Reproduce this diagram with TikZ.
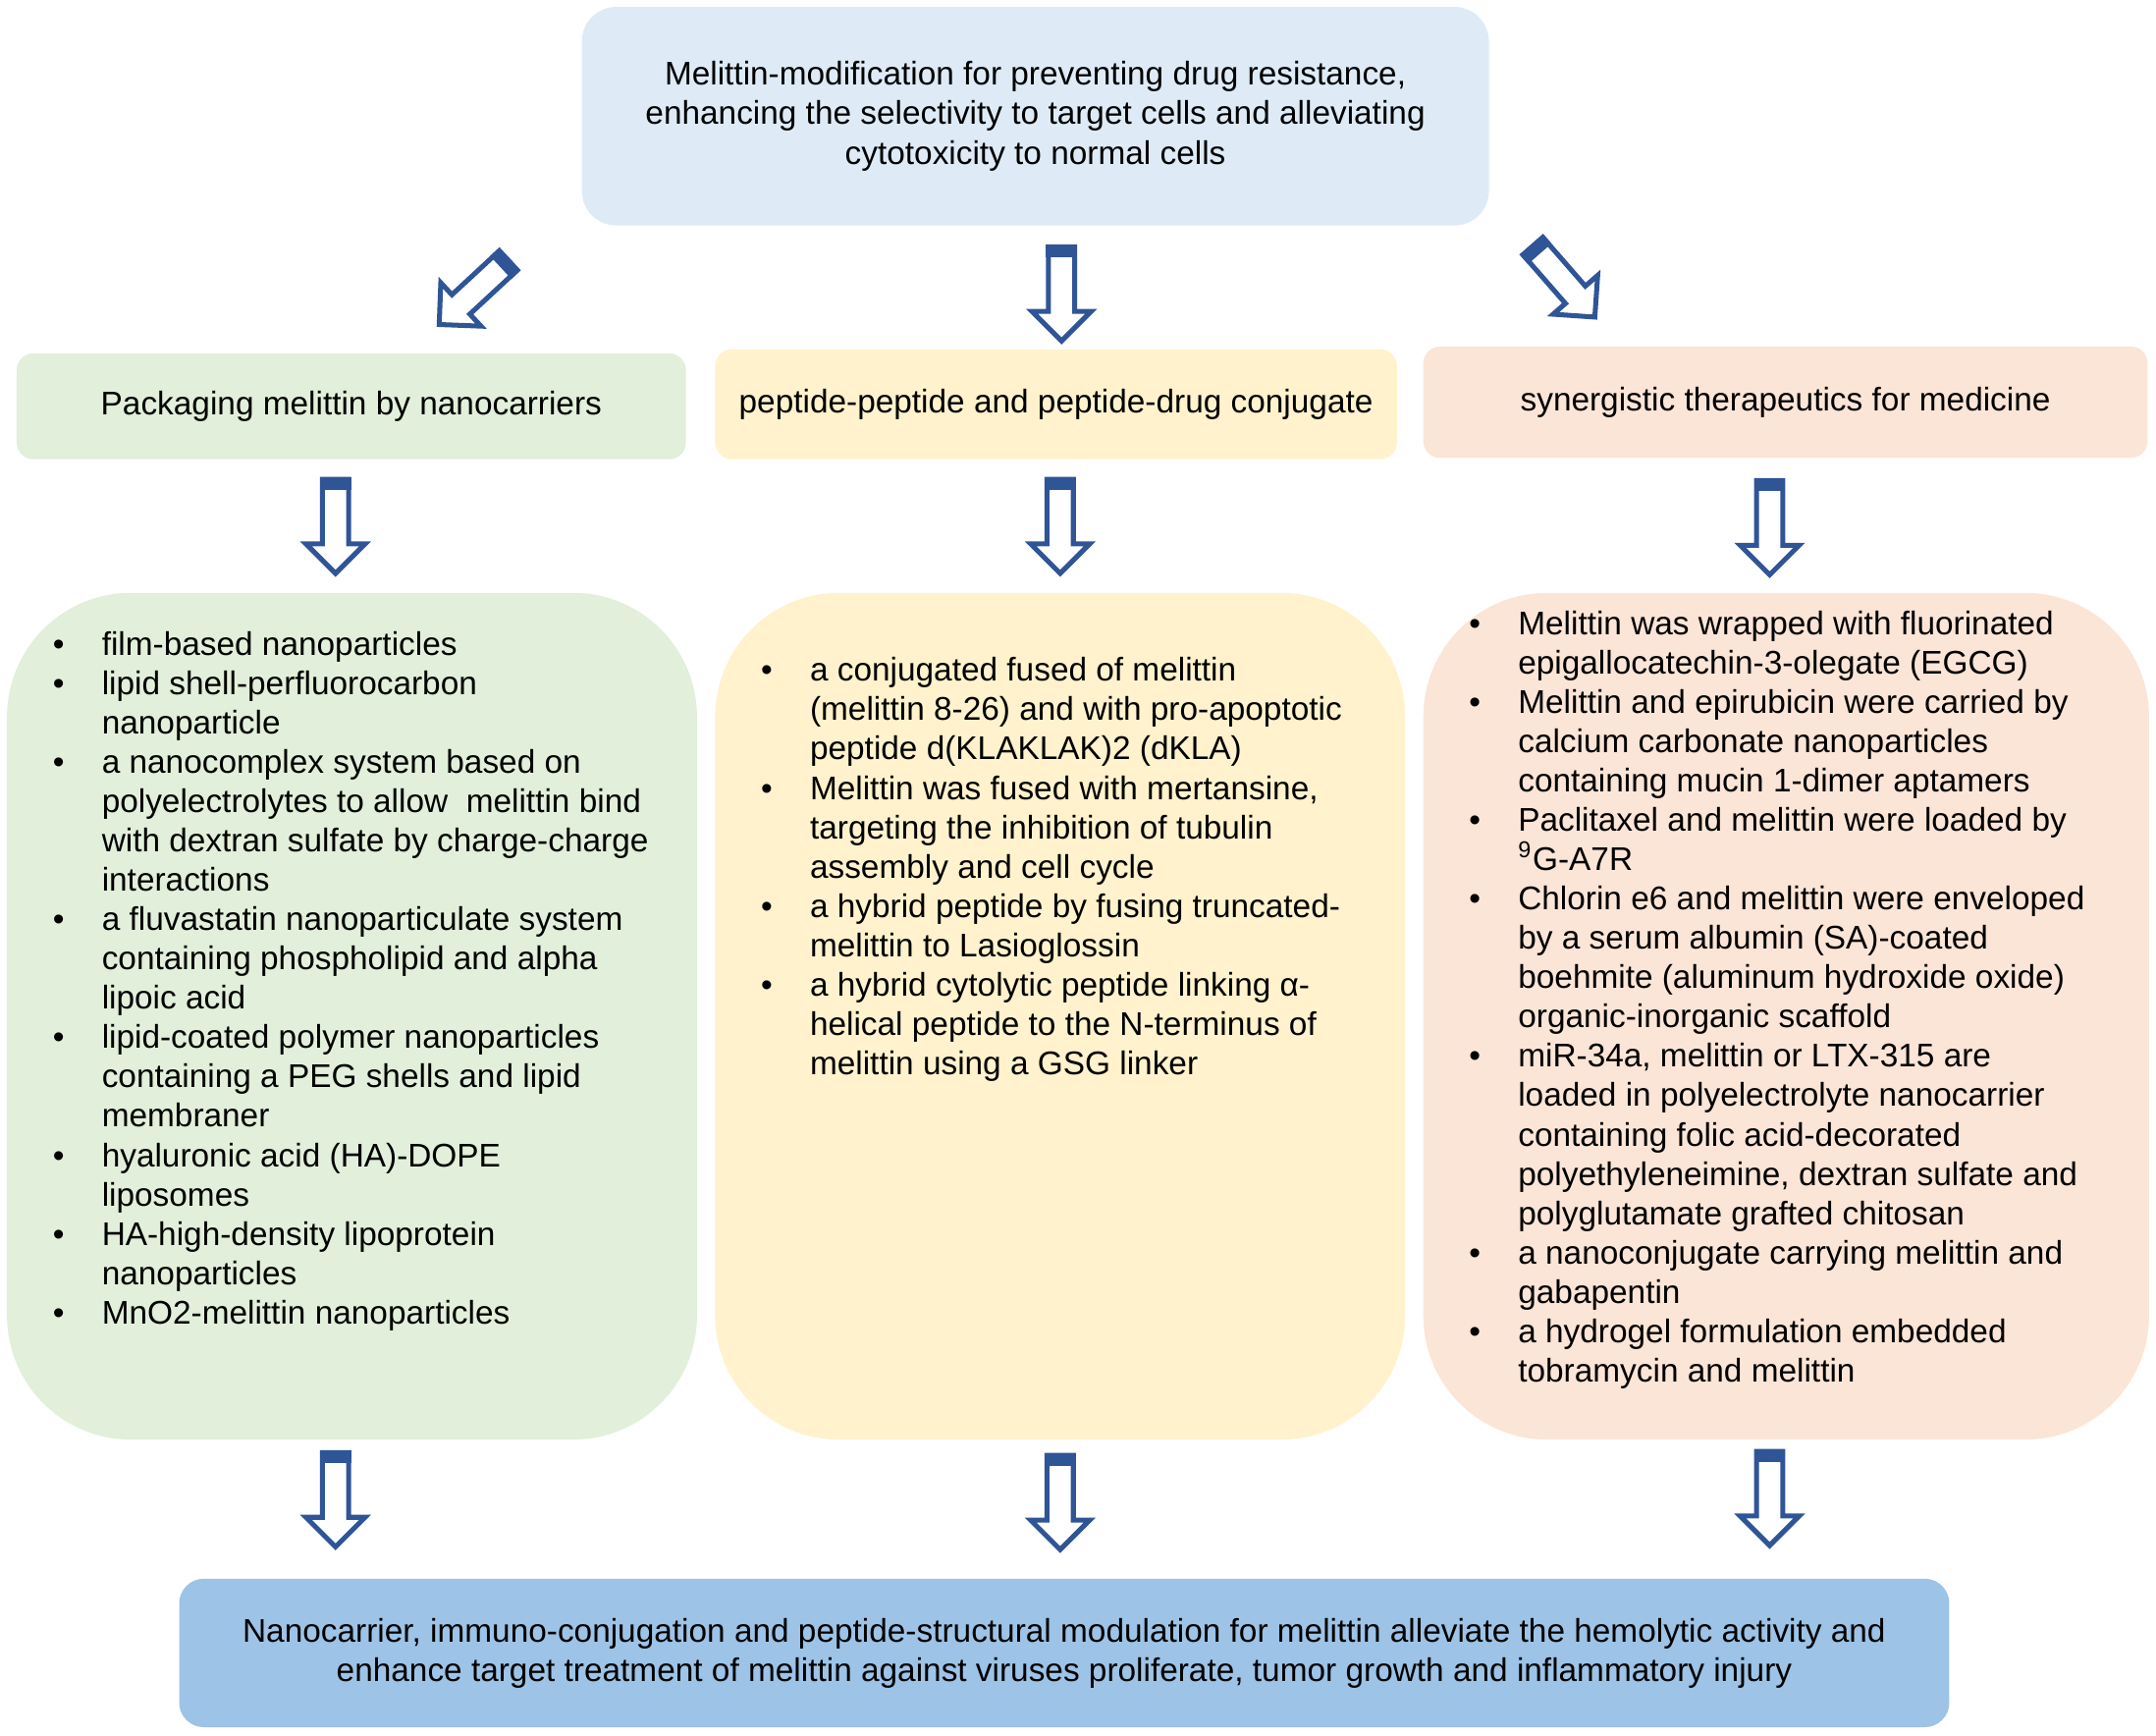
\documentclass[tikz,border=0pt]{standalone}
\usepackage{fontspec}
\setmainfont{Liberation Sans}
\usepackage{tikz}
\usetikzlibrary{positioning, calc}
\definecolor{topblue}{RGB}{222, 235, 247}
\definecolor{nanogreen}{RGB}{226, 239, 218}
\definecolor{conjyellow}{RGB}{255, 242, 204}
\definecolor{synorange}{RGB}{251, 229, 214}
\definecolor{goalblue}{RGB}{157, 195, 230}
\definecolor{arrowblue}{RGB}{47, 85, 151}

\newcommand{\bitem}{\makebox[0.5cm][l]{\textbullet}}
\newcommand{\bcont}{\hspace*{0.5cm}}
\setlength{\lineskiplimit}{-100pt}

\begin{document}
\begin{tikzpicture}[
    x=0.014cm, y=-0.014cm,
    every node/.style={font=\fontsize{9.5}{11.4}\selectfont},
    box/.style={rounded corners=0.17cm, align=center, inner sep=0pt},
    listbox/.style={rounded corners=1.26cm, inner sep=0pt,
                    minimum height=8.624cm},
    listtext/.style={align=left, inner sep=0pt, anchor=north west},
    blockarrow/.pic={
      \draw[arrowblue, line width=1.43pt, fill=white, line join=miter]
        (0,-9.6) -- (47,-9.6) -- (47,-21.5) -- (68.5,0) -- (47,21.5)
        -- (47,9.6) -- (0,9.6) -- cycle;
      \fill[arrowblue] (-1.8,-11.4) rectangle (7.5,11.4);
    },
  ]
  \useasboundingbox (0,0) rectangle (1568,1262);

  % aim
  \node[box, fill=topblue, rounded corners=0.35cm,
        minimum width=9.24cm, minimum height=2.226cm] (top) at (753,84.5)
    {Melittin-modification for preventing drug resistance,\\
     enhancing the selectivity to target cells and alleviating\\
     cytotoxicity to normal cells};

  % three strategies
  \node[box, fill=nanogreen, minimum width=6.818cm, minimum height=1.078cm]
    (pack) at (255.5,295.5) {Packaging melittin by nanocarriers};
  \node[box, fill=conjyellow, minimum width=6.944cm, minimum height=1.12cm]
    (conj) at (768,294) {peptide-peptide and peptide-drug conjugate};
  \node[box, fill=synorange, minimum width=7.378cm, minimum height=1.134cm]
    (syn) at (1298.5,292.5) {synergistic therapeutics for medicine};

  % examples
  \node[listbox, fill=nanogreen, minimum width=7.028cm] (packlist) at (256,739) {};
  \node[listbox, fill=conjyellow, minimum width=7.028cm] (conjlist) at (771,739) {};
  \node[listbox, fill=synorange, minimum width=7.392cm] (synlist) at (1299,739) {};

  \node[listtext, below right=0.30cm and 0.466cm of packlist.north west] (packtext)
    {\rule{0pt}{9.5pt}\bitem film-based nanoparticles\\
     \bitem lipid shell-perfluorocarbon\\
     \bcont nanoparticle\\
     \bitem a nanocomplex system based on\\
     \bcont polyelectrolytes to allow\ \ melittin bind\\
     \bcont with dextran sulfate by charge-charge\\
     \bcont interactions\\
     \bitem a fluvastatin nanoparticulate system\\
     \bcont containing phospholipid and alpha\\
     \bcont lipoic acid\\
     \bitem lipid-coated polymer nanoparticles\\
     \bcont containing a PEG shells and lipid\\
     \bcont membraner\\
     \bitem hyaluronic acid (HA)-DOPE\\
     \bcont liposomes\\
     \bitem HA-high-density lipoprotein\\
     \bcont nanoparticles\\
     \bitem MnO2-melittin nanoparticles};

  \node[listtext, below right=0.566cm and 0.466cm of conjlist.north west] (conjtext)
    {\rule{0pt}{9.5pt}\bitem a conjugated fused of melittin\\
     \bcont (melittin 8-26) and with pro-apoptotic\\
     \bcont peptide d(KLAKLAK)2 (dKLA)\\
     \bitem Melittin was fused with mertansine,\\
     \bcont targeting the inhibition of tubulin\\
     \bcont assembly and cell cycle\\
     \bitem a hybrid peptide by fusing truncated-\\
     \bcont melittin to Lasioglossin\\
     \bitem a hybrid cytolytic peptide linking α-\\
     \bcont helical peptide to the N-terminus of\\
     \bcont melittin using a GSG linker};

  \node[listtext, below right=0.09cm and 0.466cm of synlist.north west] (syntext)
    {\rule{0pt}{9.5pt}\bitem Melittin was wrapped with fluorinated\\
     \bcont epigallocatechin-3-olegate (EGCG)\\
     \bitem Melittin and epirubicin were carried by\\
     \bcont calcium carbonate nanoparticles\\
     \bcont containing mucin 1-dimer aptamers\\
     \bitem Paclitaxel and melittin were loaded by\\
     \bcont \textsuperscript{9}G-A7R\\
     \bitem Chlorin e6 and melittin were enveloped\\
     \bcont by a serum albumin (SA)-coated\\
     \bcont boehmite (aluminum hydroxide oxide)\\
     \bcont organic-inorganic scaffold\\
     \bitem miR-34a, melittin or LTX-315 are\\
     \bcont loaded in polyelectrolyte nanocarrier\\
     \bcont containing folic acid-decorated\\
     \bcont polyethyleneimine, dextran sulfate and\\
     \bcont polyglutamate grafted chitosan\\
     \bitem a nanoconjugate carrying melittin and\\
     \bcont gabapentin\\
     \bitem a hydrogel formulation embedded\\
     \bcont tobramycin and melittin};

  % outcome
  \node[box, fill=goalblue, rounded corners=0.25cm,
        minimum width=18.032cm, minimum height=1.512cm] (goal) at (774,1202)
    {Nanocarrier, immuno-conjugation and peptide-structural modulation for melittin alleviate the hemolytic activity and\\
     enhance target treatment of melittin against viruses proliferate, tumor growth and inflammatory injury};

  % block arrows
  \pic[rotate=222.8] at ($(top.south west)+(-53,25)$) {blockarrow};
  \pic[rotate=-90] at ($(top.south)+(19,15)$) {blockarrow};
  \pic[rotate=-48.9] at ($(top.south east)+(31.5,14.5)$) {blockarrow};

  \pic[rotate=-90] at ($(pack.south)+(-11.5,14)$) {blockarrow};
  \pic[rotate=-90] at ($(conj.south)+(3,14)$) {blockarrow};
  \pic[rotate=-90] at ($(syn.south)+(-11.5,16)$) {blockarrow};

  \pic[rotate=-90] at ($(packlist.south)+(-12,9)$) {blockarrow};
  \pic[rotate=-90] at ($(conjlist.south)+(0,11)$) {blockarrow};
  \pic[rotate=-90] at ($(synlist.south)+(-12,8)$) {blockarrow};
\end{tikzpicture}
\end{document}
